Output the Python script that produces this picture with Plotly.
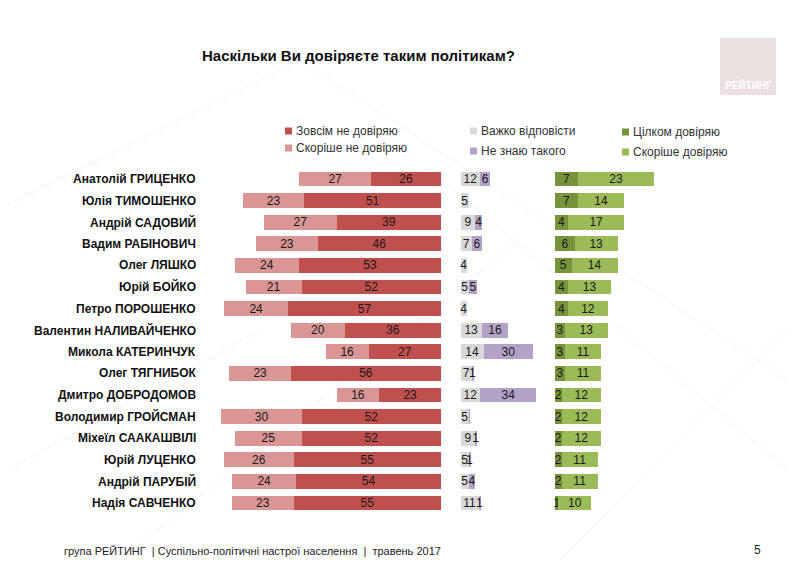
import plotly.graph_objects as go

names = ["Анатолій ГРИЦЕНКО", "Юлія ТИМОШЕНКО", "Андрій САДОВИЙ", "Вадим РАБІНОВИЧ",
         "Олег ЛЯШКО", "Юрій БОЙКО", "Петро ПОРОШЕНКО", "Валентин НАЛИВАЙЧЕНКО",
         "Микола КАТЕРИНЧУК", "Олег ТЯГНИБОК", "Дмитро ДОБРОДОМОВ", "Володимир ГРОЙСМАН",
         "Міхеїл СААКАШВІЛІ", "Юрій ЛУЦЕНКО", "Андрій ПАРУБІЙ", "Надія САВЧЕНКО"]
no_trust = [26, 51, 39, 46, 53, 52, 57, 36, 27, 56, 23, 52, 52, 55, 54, 55]
rather_no = [27, 23, 27, 23, 24, 21, 24, 20, 16, 23, 16, 30, 25, 26, 24, 23]
hard_say = [12, 5, 9, 7, 4, 5, 4, 13, 14, 7, 12, 5, 9, 5, 5, 11]
dont_know = [6, 0, 4, 6, 0, 5, 0, 16, 30, 1, 34, 0.4, 1, 1, 4, 1]
full_trust = [7, 7, 4, 6, 5, 4, 4, 3, 3, 3, 2, 2, 2, 2, 2, 1]
rather_trust = [23, 14, 17, 13, 14, 13, 12, 13, 11, 11, 12, 12, 12, 11, 11, 10]

C_DARKRED = "#c0504d"
C_LIGHTRED = "#d99694"
C_GRAY = "#d9d9d9"
C_PURPLE = "#b3a2c7"
C_DARKGREEN = "#77933c"
C_LIGHTGREEN = "#9bbb59"

# page body has an 8px margin: figure is sized to fit inside the window
OFF = 8
W, H = 796 - 2 * OFF, 568 - 2 * OFF
def px(x):
    return (x - OFF) / W
def py(y):
    return 1 - (y - OFF) / H

FONT = "Liberation Sans, Arial"
NUM_FONT = dict(family=FONT, size=12, color="#1a1a1a")

def lbl(vals):
    return [("%d" % round(v)) if v >= 0.5 else "" for v in vals]

fig = go.Figure()
series = [
    (no_trust, C_DARKRED, "x"),
    (rather_no, C_LIGHTRED, "x"),
    (hard_say, C_GRAY, "x2"),
    (dont_know, C_PURPLE, "x2"),
    (full_trust, C_DARKGREEN, "x3"),
    (rather_trust, C_LIGHTGREEN, "x3"),
]
for vals, col, xa in series:
    fig.add_trace(go.Bar(
        y=names, x=vals, orientation="h", marker=dict(color=col, line=dict(width=0)),
        text=lbl(vals), textposition="inside", insidetextanchor="middle", textangle=0,
        textfont=NUM_FONT, xaxis=xa, yaxis="y", showlegend=False,
        hoverinfo="skip", cliponaxis=False,
    ))

row_top, row_bot = 168.2, 513.8
fig.update_layout(
    width=W, height=H, margin=dict(l=0, r=0, t=0, b=0),
    paper_bgcolor="white", plot_bgcolor="rgba(0,0,0,0)",
    barmode="stack", bargap=0.31,
    uniformtext=dict(mode="show", minsize=12),
    xaxis=dict(domain=[px(200), px(441)], range=[90, 0], visible=False, anchor="y"),
    xaxis2=dict(domain=[px(460.5), px(460.5 + 50 * 1.65)], range=[0, 50], visible=False, anchor="y"),
    xaxis3=dict(domain=[px(555), px(555 + 40 * 3.3)], range=[0, 40], visible=False, anchor="y"),
    yaxis=dict(domain=[py(row_bot), py(row_top)], categoryorder="array", categoryarray=names,
               autorange="reversed", visible=False, anchor="x"),
)

# faint decorative background lines
bg_lines = [((8, 205), (300, 60)), ((300, 60), (788, 380)), ((120, 560), (520, 240)),
            ((430, 170), (788, 470)), ((560, 560), (788, 330)), ((8, 470), (260, 330))]
for (x0, y0), (x1, y1) in bg_lines:
    fig.add_shape(type="line", xref="paper", yref="paper", x0=px(x0), y0=py(y0), x1=px(x1), y1=py(y1),
                  line=dict(color="#f2f2f2", width=1), layer="below")

# names
for n in names:
    fig.add_annotation(x=px(198), xref="paper", y=n, yref="y", text=n, showarrow=False,
                       xanchor="right", yanchor="middle",
                       font=dict(family=FONT, size=12, color="#111111", weight="bold"))

# title
fig.add_annotation(x=px(358), y=py(56), xref="paper", yref="paper", showarrow=False,
                   text="Наскільки Ви довіряєте таким політикам?", xanchor="center", yanchor="middle",
                   font=dict(family=FONT, size=15, color="#111111", weight="bold"))

# legend
legend_items = [
    ("Зовсім не довіряю", C_DARKRED, 285, 131),
    ("Скоріше не довіряю", C_LIGHTRED, 285, 148),
    ("Важко відповісти", C_GRAY, 470, 131),
    ("Не знаю такого", C_PURPLE, 470, 151),
    ("Цілком довіряю", C_DARKGREEN, 622, 132),
    ("Скоріше довіряю", C_LIGHTGREEN, 622, 152),
]
for txt, col, sx, sy in legend_items:
    fig.add_shape(type="rect", xref="paper", yref="paper", x0=px(sx), x1=px(sx + 7),
                  y0=py(sy + 3.5), y1=py(sy - 3.5), fillcolor=col, line=dict(width=0))
    fig.add_annotation(x=px(sx + 9), y=py(sy), xref="paper", yref="paper", text=txt, showarrow=False,
                       xanchor="left", yanchor="middle",
                       font=dict(family=FONT, size=12, color="#333333"))

# logo
fig.add_shape(type="rect", xref="paper", yref="paper", x0=px(720), x1=px(776), y0=py(95), y1=py(38),
              fillcolor="#ebdfe0", line=dict(width=0))
fig.add_annotation(x=px(748), y=py(85), xref="paper", yref="paper", text="РЕЙТИНГ", showarrow=False,
                   xanchor="center", yanchor="middle",
                   font=dict(family=FONT, size=10, color="white", weight="bold"))

# footer
fig.add_annotation(x=px(62), y=py(559), xref="paper", yref="paper",
                   text="група РЕЙТИНГ  | Суспільно-політичні настрої населення  |  травень 2017",
                   showarrow=False, xanchor="left", yanchor="bottom",
                   font=dict(family=FONT, size=11, color="#222222"))
fig.add_annotation(x=px(757), y=py(559), xref="paper", yref="paper", text="5", showarrow=False,
                   xanchor="center", yanchor="bottom",
                   font=dict(family=FONT, size=12, color="#222222"))

fig.write_html("out.html")
